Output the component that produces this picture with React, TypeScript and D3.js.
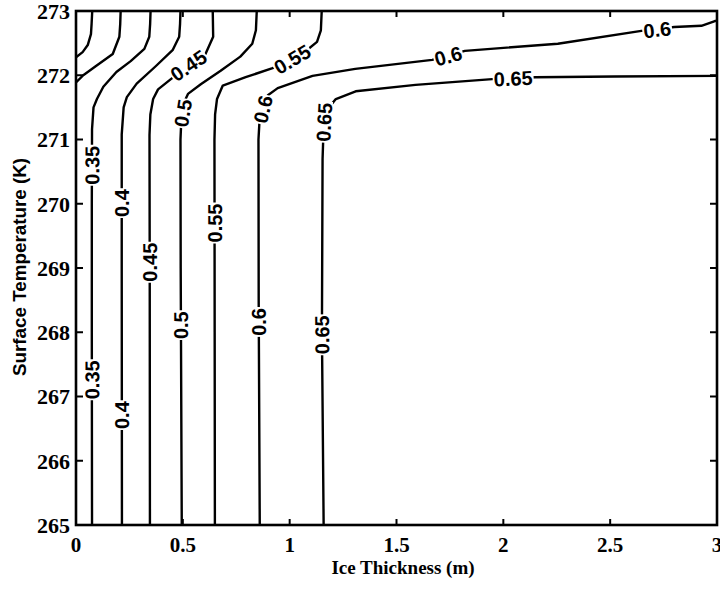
import React from 'react';
import * as d3 from 'd3';

type P = [number, number];

const xTicks = [0, 0.5, 1, 1.5, 2, 2.5, 3];
const xTickLabels = ['0', '0.5', '1', '1.5', '2', '2.5', '3'];
const yTicks = [265, 266, 267, 268, 269, 270, 271, 272, 273];

// contour polylines: [ice thickness (m), surface temperature (K)]
const c025: P[] = [[0.076, 273], [0.073, 272.8], [0.07, 272.64], [0.055, 272.47], [0.031, 272.36], [0, 272.28]];
const c030: P[] = [[0.209, 273], [0.207, 272.8], [0.203, 272.6], [0.172, 272.33], [0.092, 272.14], [0.034, 272.0], [0, 271.89]];
const c035: P[] = [[0.349, 273], [0.347, 272.8], [0.343, 272.6], [0.32, 272.41], [0.256, 272.22], [0.189, 272.05], [0.128, 271.82], [0.098, 271.63], [0.082, 271.5], [0.075, 271.16], [0.074, 270], [0.074, 268], [0.075, 265]];
const c040: P[] = [[0.489, 273], [0.487, 272.8], [0.483, 272.6], [0.452, 272.39], [0.373, 272.14], [0.284, 271.87], [0.238, 271.66], [0.223, 271.5], [0.214, 271.08], [0.214, 269], [0.215, 265]];
const c045: P[] = [[0.64, 273], [0.642, 272.6], [0.606, 272.33], [0.527, 272.15], [0.444, 271.94], [0.384, 271.78], [0.361, 271.63], [0.348, 271.39], [0.344, 271.07], [0.345, 269], [0.346, 265]];
const c050: P[] = [[0.846, 273], [0.842, 272.7], [0.825, 272.49], [0.769, 272.29], [0.677, 272.07], [0.584, 271.86], [0.524, 271.71], [0.506, 271.58], [0.493, 271.31], [0.489, 271.0], [0.49, 269], [0.495, 265]];
const c055: P[] = [[1.15, 273], [1.146, 272.7], [1.128, 272.52], [1.073, 272.37], [1.012, 272.25], [0.92, 272.11], [0.794, 271.97], [0.687, 271.84], [0.66, 271.63], [0.651, 271.39], [0.648, 271.0], [0.649, 268], [0.65, 265]];
const c060: P[] = [[0.86, 265], [0.855, 268.5], [0.854, 271.0], [0.858, 271.24], [0.875, 271.47], [0.898, 271.69], [0.944, 271.8], [1.107, 271.99], [1.307, 272.1], [1.667, 272.24], [1.82, 272.38], [2.255, 272.49], [2.646, 272.69], [2.8, 272.75], [2.927, 272.77], [2.987, 272.84], [3.0, 272.85]];
const c065: P[] = [[1.159, 265], [1.151, 268], [1.154, 270.7], [1.157, 271.0], [1.161, 271.27], [1.184, 271.5], [1.216, 271.63], [1.309, 271.75], [1.589, 271.85], [1.948, 271.94], [2.149, 271.97], [2.52, 271.98], [3.0, 271.99]];

const contourLevels = [0.25, 0.3, 0.35, 0.4, 0.45, 0.5, 0.55, 0.6, 0.65];
const contourLines = [c025, c030, c035, c040, c045, c050, c055, c060, c065];

// inline labels
const labelLevel = [0.35, 0.35, 0.4, 0.4, 0.45, 0.45, 0.5, 0.5, 0.55, 0.55, 0.6, 0.6, 0.6, 0.6, 0.65, 0.65, 0.65];
const labelX = [0.075, 0.075, 0.214, 0.214, 0.527, 0.345, 0.5, 0.49, 1.012, 0.65, 0.875, 0.855, 1.742, 2.72, 1.161, 1.151, 2.046];
const labelT = [270.6, 267.26, 270.01, 266.71, 272.15, 269.09, 271.41, 268.11, 272.25, 269.7, 271.47, 268.16, 272.3, 272.71, 271.27, 267.96, 271.95];

export default function App() {
  const W = 720, H = 591;
  const x = d3.scaleLinear().domain([0, 3]).range([76, 717]);
  const y = d3.scaleLinear().domain([265, 273]).range([525, 11]);
  const line = d3.line<P>().x(d => x(d[0])).y(d => y(d[1]));

  const labelFs = 20;
  const labels = labelLevel.map((lev, i) => {
    const idx = contourLevels.indexOf(lev);
    const pts = contourLines[idx].map(p => [x(p[0]), y(p[1])]);
    const lx = x(labelX[i]), ly = y(labelT[i]);
    let best = 1e9, ang = -90;
    for (let k = 0; k < pts.length - 1; k++) {
      const [x1, y1] = pts[k], [x2, y2] = pts[k + 1];
      const dx = x2 - x1, dy = y2 - y1;
      const L2 = dx * dx + dy * dy || 1;
      let t = ((lx - x1) * dx + (ly - y1) * dy) / L2;
      t = Math.max(0, Math.min(1, t));
      const px = x1 + t * dx, py = y1 + t * dy;
      const dd = (px - lx) ** 2 + (py - ly) ** 2;
      if (dd < best) {
        best = dd;
        let a = Math.atan2(dy, dx) * 180 / Math.PI;
        while (a > 90) a -= 180;
        while (a <= -90) a += 180;
        if (a > 60) a -= 180;
        ang = a;
      }
    }
    const txt = String(lev);
    const digits = txt.replace('.', '').length;
    const w = labelFs * (0.556 * digits + 0.278);
    return { txt, lx, ly, ang, w };
  });

  const x0 = x(0), x1 = x(3), yTop = y(273), yBot = y(265);
  const serif = '"Liberation Serif", "Times New Roman", serif';
  const sans = '"Liberation Sans", Arial, sans-serif';

  return (
    <svg width={W} height={H} style={{ position: 'absolute', left: 0, top: 0, background: '#fff' }}>
      <rect width={W} height={H} fill="#fff" />
      <defs>
        <clipPath id="plotArea">
          <rect x={x0} y={yTop} width={x1 - x0} height={yBot - yTop} />
        </clipPath>
      </defs>
      <g clipPath="url(#plotArea)">
        {contourLines.map((c, i) => (
          <path key={i} d={line(c) || ''} fill="none" stroke="#000" strokeWidth={2.4} strokeLinejoin="round" />
        ))}
        {labels.map((l, i) => (
          <g key={i} transform={`translate(${l.lx},${l.ly}) rotate(${l.ang})`}>
            <rect x={-l.w / 2 - 1} y={-labelFs * 0.4} width={l.w + 2} height={labelFs * 0.8} fill="#fff" />
            <text x={0} y={0} dy="0.36em" textAnchor="middle" fontFamily={sans} fontWeight="bold" fontSize={labelFs} fill="#000">{l.txt}</text>
          </g>
        ))}
      </g>
      {/* frame */}
      <rect x={x0} y={yTop} width={x1 - x0} height={yBot - yTop} fill="none" stroke="#000" strokeWidth={2.6} />
      {/* ticks */}
      {xTicks.map((t, i) => (
        <g key={'xt' + i}>
          <line x1={x(t)} x2={x(t)} y1={yBot} y2={yBot - 6} stroke="#000" strokeWidth={2} />
          <line x1={x(t)} x2={x(t)} y1={yTop} y2={yTop + 6} stroke="#000" strokeWidth={2} />
          <text x={x(t)} y={yBot + 19} dy="0.36em" textAnchor="middle" fontFamily={serif} fontWeight="bold" fontSize={21} fill="#000">{xTickLabels[i]}</text>
        </g>
      ))}
      {yTicks.map((t, i) => (
        <g key={'yt' + i}>
          <line x1={x0} x2={x0 + 7} y1={y(t)} y2={y(t)} stroke="#000" strokeWidth={2} />
          <line x1={x1} x2={x1 - 7} y1={y(t)} y2={y(t)} stroke="#000" strokeWidth={2} />
          <text x={x0 - 6} y={y(t)} dy="0.36em" textAnchor="end" fontFamily={serif} fontWeight="bold" fontSize={22} fill="#000">{t}</text>
        </g>
      ))}
      <text x={403} y={567} dy="0.36em" textAnchor="middle" fontFamily={serif} fontWeight="bold" fontSize={19} fill="#000">Ice Thickness (m)</text>
      <text transform={`translate(20,267) rotate(-90)`} dy="0.36em" textAnchor="middle" fontFamily={sans} fontWeight="bold" fontSize={18} fill="#000" textLength={218} lengthAdjust="spacingAndGlyphs">Surface Temperature (K)</text>
    </svg>
  );
}
